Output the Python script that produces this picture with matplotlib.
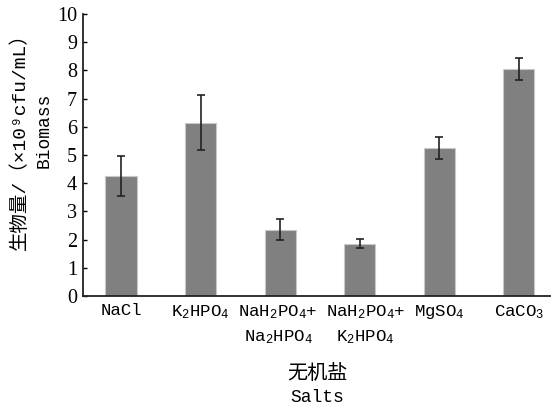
import matplotlib
matplotlib.use("Agg")
import matplotlib.pyplot as plt
import matplotlib.transforms as mtransforms
import numpy as np

categories = ["NaCl", r"$\mathregular{K_2HPO_4}$",
              "$\\mathregular{NaH_2PO_4}$+\n$\\mathregular{Na_2HPO_4}$",
              "$\\mathregular{NaH_2PO_4}$+\n$\\mathregular{K_2HPO_4}$",
              r"$\mathregular{MgSO_4}$", r"$\mathregular{CaCO_3}$"]
values = [4.26, 6.15, 2.35, 1.86, 5.26, 8.06]
errors = [0.71, 0.96, 0.37, 0.17, 0.39, 0.39]
yticks = list(range(0, 11))

plt.rcParams['mathtext.fontset'] = 'custom'
plt.rcParams['mathtext.rm'] = 'Liberation Mono'
plt.rcParams['mathtext.it'] = 'Liberation Mono'
plt.rcParams['mathtext.bf'] = 'Liberation Mono'

mono = ['Liberation Mono', 'Noto Sans CJK SC', 'DejaVu Sans']
serif = ['Liberation Serif', 'Noto Sans CJK SC']

fig = plt.figure(figsize=(5.52, 4.09), dpi=100)
ax = fig.add_axes([0.150, 0.276, 0.846, 0.690])

x = np.arange(len(values))
ax.bar(x, values, width=0.39, color='#808080', edgecolor='#c8c8c8', linewidth=0.8, zorder=2)
ax.errorbar(x, values, yerr=errors, fmt='none', ecolor='#222222', elinewidth=1.2,
            capsize=3, capthick=1.2, zorder=3)

ax.set_xlim(-0.48, 5.39)
ax.set_ylim(0, 10)
ax.set_yticks(yticks)
ax.set_yticklabels([str(t) for t in yticks], family=serif, fontsize=14.5)
ax.set_xticks(x)
ax.set_xticklabels(categories, family=mono, fontsize=12.5, linespacing=1.55)
ax.tick_params(axis='x', length=0, pad=5)
ax.tick_params(axis='y', direction='in', length=3, width=1, pad=4)

# small horizontal nudges of crowded tick labels
shifts = [0, 0, -2, 6, 0, 0]
for lab, dx in zip(ax.get_xticklabels(), shifts):
    if dx:
        lab.set_transform(lab.get_transform() +
                          mtransforms.ScaledTranslation(dx / 100, 0, fig.dpi_scale_trans))

for s in ['top', 'right']:
    ax.spines[s].set_visible(False)
for s in ['left', 'bottom']:
    ax.spines[s].set_linewidth(1.3)
    ax.spines[s].set_color('#222222')

fig.text(0.036, 0.665, '生物量/（×10⁹cfu/mL）', rotation=90, ha='center', va='center',
         family=mono, fontsize=14)
fig.text(0.080, 0.682, 'Biomass', rotation=90, ha='center', va='center',
         family=mono, fontsize=13)
fig.text(0.575, 0.086, '无机盐', ha='center', va='center', family=mono, fontsize=14.5)
fig.text(0.575, 0.027, 'Salts', ha='center', va='center', family=mono, fontsize=13)

fig.savefig('out.png', dpi=100)
